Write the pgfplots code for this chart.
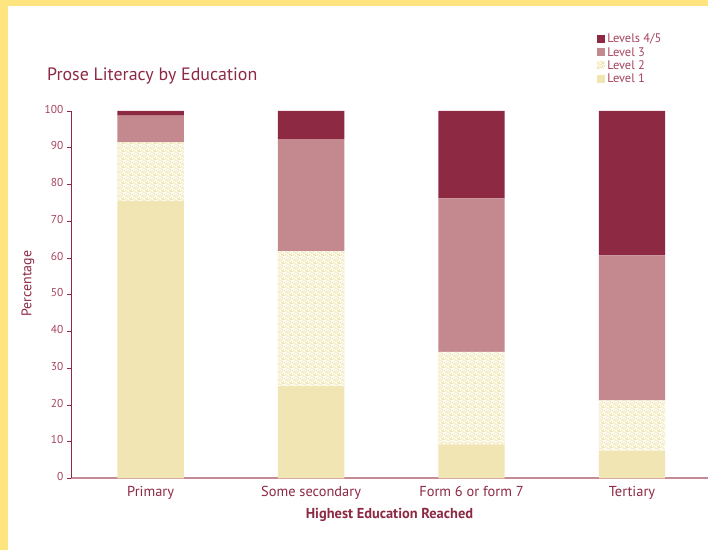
\documentclass[border=0pt]{standalone}
\usepackage{pgfplots}
\pgfplotsset{compat=1.18}
\usepackage{fontspec}
\setmainfont{PT Sans}
\usetikzlibrary{patterns}
\definecolor{lvA}{HTML}{8E2944}
\definecolor{lvB}{HTML}{C4898E}
\definecolor{lvC}{HTML}{F1E6B3}
\definecolor{yframe}{HTML}{FFE57F}
\definecolor{txt}{HTML}{8E2944}
\definecolor{tick}{HTML}{A8455F}
\definecolor{xline}{HTML}{C58A98}
\newcommand{\cell}[2]{\pgfpathrectangle{\pgfqpoint{#1bp}{#2bp}}{\pgfqpoint{1.05bp}{1.05bp}}}
\pgfdeclarepatternformonly{speckle}{\pgfqpoint{0bp}{0bp}}{\pgfqpoint{8bp}{8bp}}{\pgfqpoint{8bp}{8bp}}{%
  \cell{0}{0}\cell{1}{0}\cell{5}{0}%
  \cell{3}{1}\cell{6}{1}\cell{7}{1}%
  \cell{1}{2}\cell{3}{2}\cell{5}{2}%
  \cell{0}{3}\cell{4}{3}\cell{5}{3}%
  \cell{2}{4}\cell{6}{4}%
  \cell{0}{5}\cell{1}{5}\cell{4}{5}\cell{7}{5}%
  \cell{3}{6}\cell{5}{6}\cell{6}{6}%
  \cell{1}{7}\cell{7}{7}%
  \pgfusepath{fill}}
\begin{document}
\begin{tikzpicture}
\fill[white] (0bp,0bp) rectangle (709bp,551bp);
\fill[yframe] (0bp,0bp) rectangle (8bp,551bp);
\fill[yframe] (0bp,545bp) rectangle (709bp,551bp);
\node[anchor=base west, font=\fontsize{18}{21}\selectfont, text=txt, inner sep=0] at (47bp,470bp) {Prose Literacy by Education};
\begin{axis}[
  at={(71bp,72bp)}, anchor=south west, scale only axis,
  width=638bp, height=368bp,
  ybar stacked, bar width=66.5bp,
  xmin=-0.497, xmax=3.474, ymin=0, ymax=100,
  xtick={0,1,2,3},
  xticklabels={Primary, Some secondary, Form 6 or form 7, Tertiary},
  ytick={0,10,...,100},
  axis x line*=bottom, axis y line*=left,
  x axis line style={-, draw=xline, line width=2bp},
  y axis line style={-, draw=txt, line width=0.8bp},
  tick align=outside, major tick length=4bp,
  xtick style={draw=none},
  ytick style={draw=txt, line width=0.6bp},
  /pgf/number format/assume math mode=true,
  yticklabel style={font=\fontsize{11.5}{12}\selectfont, text=tick},
  xticklabel style={font=\fontsize{14.5}{16}\selectfont, text=txt},
  typeset ticklabels with strut,
  xlabel={Highest Education Reached},
  xlabel style={font=\bfseries\fontsize{14.5}{16}\selectfont, text=txt, at={(axis description cs:0.5,-0.1)}, anchor=center},
  ylabel={Percentage},
  ylabel style={font=\fontsize{14}{16}\selectfont, text=txt, at={(axis description cs:-0.0674,0.53)}, anchor=center},
  legend style={at={(axis description cs:0.826,1.215)}, anchor=north west, draw=none, fill=none,
    font=\fontsize{12.5}{13}\selectfont, text=tick, row sep=-1bp, inner sep=0pt},
  legend cell align=left,
  reverse legend,
  legend image code/.code={\path[#1, draw=none] (0bp,-3.5bp) rectangle (8bp,4.5bp);},
  clip=false,
]
\addplot[fill=lvC, draw=none] coordinates {(0,75.4) (1,25.1) (2,9.2) (3,7.4)};
\addplot[fill=lvC, draw=none, postaction={pattern=speckle, pattern color=white}] coordinates {(0,16.0) (1,36.7) (2,25.2) (3,13.8)};
\addplot[fill=lvB, draw=none] coordinates {(0,7.3) (1,30.5) (2,41.8) (3,39.5)};
\addplot[fill=lvA, draw=none] coordinates {(0,1.3) (1,7.7) (2,23.8) (3,39.3)};
\legend{Level 1, Level 2, Level 3, Levels 4/5}
\end{axis}
\end{tikzpicture}
\end{document}
